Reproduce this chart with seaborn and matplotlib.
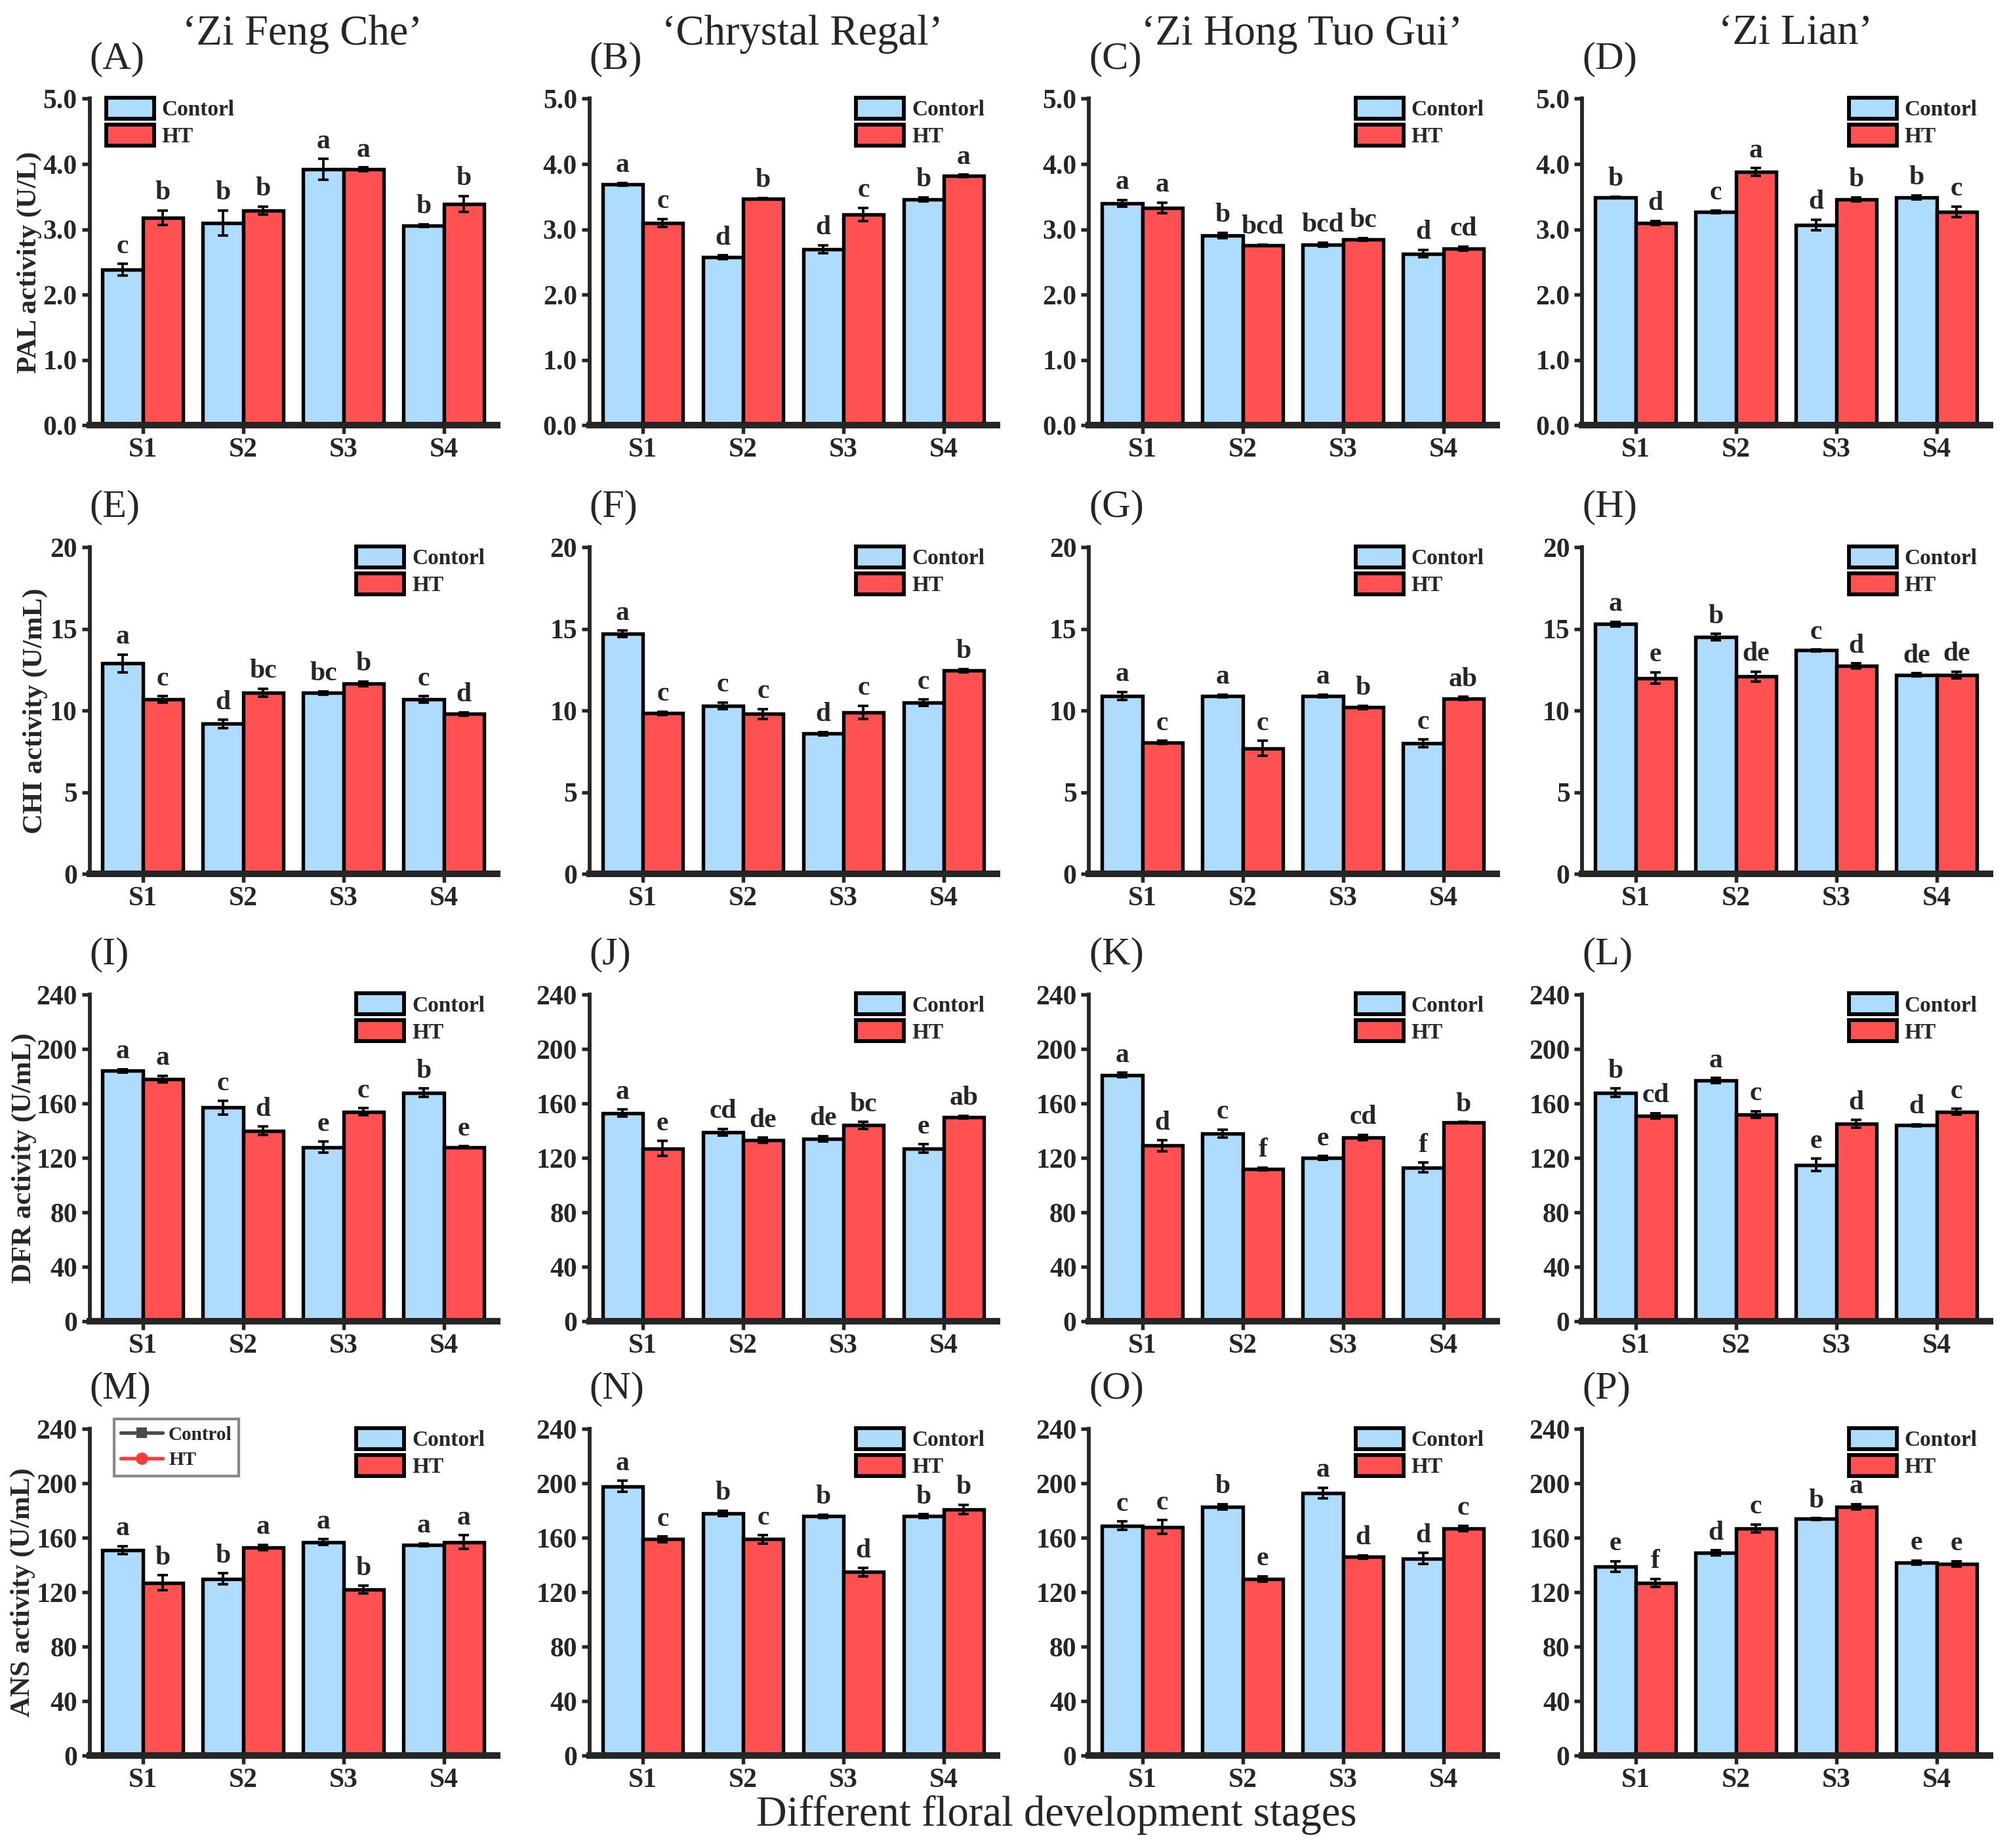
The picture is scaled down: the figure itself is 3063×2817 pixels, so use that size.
"""Enzyme activities (PAL, CHI, DFR, ANS) of four cultivars under control and HT."""

import matplotlib
matplotlib.use("Agg")
import matplotlib.pyplot as plt
from matplotlib.lines import Line2D
from matplotlib.patches import Patch
import pandas as pd
import seaborn as sns

STAGES = ["S1", "S2", "S3", "S4"]
TREATMENTS = ["Contorl", "HT"]
CULTIVARS = ["\u2018Zi Feng Che\u2019", "\u2018Chrystal Regal\u2019",
             "\u2018Zi Hong Tuo Gui\u2019", "\u2018Zi Lian\u2019"]
PANEL_TAGS = list("ABCDEFGHIJKLMNOP")
ENZYME_LABELS = ["PAL activity (U/L)", "CHI activity (U/mL)",
                 "DFR activity (U/mL)", "ANS activity (U/mL)"]
Y_TICKS = [[0, 1, 2, 3, 4, 5], [0, 5, 10, 15, 20],
           [0, 40, 80, 120, 160, 200, 240], [0, 40, 80, 120, 160, 200, 240]]
Y_FMT = ["{:.1f}", "{:g}", "{:g}", "{:g}"]
X_LABEL = "Different floral development stages"

# one row per cultivar, one value per stage
PAL_CTRL = [[2.38, 3.10, 3.92, 3.06], [3.69, 2.57, 2.70, 3.46],
            [3.40, 2.91, 2.77, 2.63], [3.49, 3.27, 3.07, 3.49]]
PAL_HT = [[3.18, 3.29, 3.92, 3.39], [3.10, 3.47, 3.23, 3.82],
          [3.33, 2.76, 2.85, 2.71], [3.10, 3.88, 3.46, 3.27]]
PAL_CTRL_SE = [[0.09, 0.19, 0.16, 0.02], [0.02, 0.03, 0.06, 0.03],
               [0.05, 0.04, 0.03, 0.06], [0.01, 0.02, 0.08, 0.03]]
PAL_HT_SE = [[0.11, 0.06, 0.03, 0.12], [0.06, 0.01, 0.10, 0.02],
             [0.08, 0.01, 0.02, 0.03], [0.03, 0.06, 0.03, 0.08]]
PAL_CTRL_SIG = [["c", "b", "a", "b"], ["a", "d", "d", "b"],
                ["a", "b", "bcd", "d"], ["b", "c", "d", "b"]]
PAL_HT_SIG = [["b", "b", "a", "b"], ["c", "b", "c", "a"],
              ["a", "bcd", "bc", "cd"], ["d", "a", "b", "c"]]

CHI_CTRL = [[12.9, 9.2, 11.1, 10.7], [14.7, 10.3, 8.6, 10.5],
            [10.9, 10.9, 10.9, 8.0], [15.3, 14.5, 13.7, 12.2]]
CHI_HT = [[10.7, 11.1, 11.65, 9.8], [9.85, 9.8, 9.9, 12.45],
          [8.05, 7.7, 10.2, 10.75], [12.0, 12.1, 12.75, 12.2]]
CHI_CTRL_SE = [[0.55, 0.25, 0.1, 0.2], [0.2, 0.2, 0.1, 0.2],
               [0.25, 0.1, 0.1, 0.25], [0.15, 0.2, 0.05, 0.1]]
CHI_HT_SE = [[0.2, 0.25, 0.15, 0.1], [0.1, 0.3, 0.4, 0.1],
             [0.1, 0.45, 0.1, 0.1], [0.35, 0.3, 0.15, 0.2]]
CHI_CTRL_SIG = [["a", "d", "bc", "c"], ["a", "c", "d", "c"],
                ["a", "a", "a", "c"], ["a", "b", "c", "de"]]
CHI_HT_SIG = [["c", "bc", "b", "d"], ["c", "c", "c", "b"],
              ["c", "c", "b", "ab"], ["e", "de", "d", "de"]]

DFR_CTRL = [[184, 157, 128, 168], [153, 139, 134, 127],
            [181, 138, 120, 113], [168, 177, 115, 144]]
DFR_HT = [[178, 140, 154, 128], [127, 133, 144, 150],
          [129, 112, 135, 146], [151, 152, 145, 154]]
DFR_CTRL_SE = [[1.2, 5, 4, 3], [2.5, 2.5, 2, 3],
               [1.5, 3, 1.5, 3.5], [3, 1.8, 4.5, 0.8]]
DFR_HT_SE = [[2.5, 3, 2.5, 0.6], [5.5, 2, 2.5, 1],
             [4, 1, 2, 0.5], [2, 2.5, 3, 2]]
DFR_CTRL_SIG = [["a", "c", "e", "b"], ["a", "cd", "de", "e"],
                ["a", "c", "e", "f"], ["b", "a", "e", "d"]]
DFR_HT_SIG = [["a", "d", "c", "e"], ["e", "de", "bc", "ab"],
              ["d", "f", "cd", "b"], ["cd", "c", "d", "c"]]

ANS_CTRL = [[151, 130, 157, 155], [198, 178, 176, 176],
            [169, 183, 193, 145], [139, 149, 174, 142]]
ANS_HT = [[127, 153, 122, 157], [159, 159, 135, 181],
          [168, 130, 146, 167], [127, 167, 183, 141]]
ANS_CTRL_SE = [[3, 4, 2, 1], [4, 2, 1.2, 1.5],
               [3, 2, 4, 4], [4, 2, 0.6, 1.5]]
ANS_HT_SE = [[5.5, 2, 3, 5], [2, 3, 3, 3.5],
             [5, 2, 1.2, 2], [3, 3, 2, 2]]
ANS_CTRL_SIG = [["a", "b", "a", "a"], ["a", "b", "b", "b"],
                ["c", "b", "a", "d"], ["e", "d", "b", "e"]]
ANS_HT_SIG = [["b", "a", "b", "a"], ["c", "c", "d", "b"],
              ["c", "e", "d", "c"], ["f", "c", "a", "e"]]

ENZYMES = [
    (PAL_CTRL, PAL_HT, PAL_CTRL_SE, PAL_HT_SE, PAL_CTRL_SIG, PAL_HT_SIG),
    (CHI_CTRL, CHI_HT, CHI_CTRL_SE, CHI_HT_SE, CHI_CTRL_SIG, CHI_HT_SIG),
    (DFR_CTRL, DFR_HT, DFR_CTRL_SE, DFR_HT_SE, DFR_CTRL_SIG, DFR_HT_SIG),
    (ANS_CTRL, ANS_HT, ANS_CTRL_SE, ANS_HT_SE, ANS_CTRL_SIG, ANS_HT_SIG),
]

BLUE = "#AEDCFE"
RED = "#FF5052"

sns.set_style("ticks")
plt.rcParams["font.family"] = ["Liberation Serif", "DejaVu Serif"]
plt.rcParams["axes.linewidth"] = 1.4

fig = plt.figure(figsize=(3063 / 300, 2817 / 300), dpi=300)

col_left = [0.0446, 0.2934, 0.5421, 0.7876]
row_bottom = [0.7698, 0.5270, 0.2850, 0.0499]
ax_w, ax_h = 0.2028, 0.1768
ylabel_x = [0.0147, 0.0175, 0.012, 0.0115]

for r, (ctrl, ht, ctrl_se, ht_se, ctrl_sig, ht_sig) in enumerate(ENZYMES):
    ymax = Y_TICKS[r][-1]
    for c in range(4):
        ax = fig.add_axes([col_left[c], row_bottom[r], ax_w, ax_h])
        df = pd.DataFrame({
            "stage": STAGES * 2,
            "treatment": [TREATMENTS[0]] * 4 + [TREATMENTS[1]] * 4,
            "value": ctrl[c] + ht[c],
        })
        sns.barplot(data=df, x="stage", y="value", hue="treatment",
                    hue_order=TREATMENTS, palette=[BLUE, RED], saturation=1,
                    errorbar=None, edgecolor="black", linewidth=1.3,
                    width=0.8, legend=False, ax=ax)

        for cont, errs, sigs in zip(ax.containers, [ctrl_se[c], ht_se[c]],
                                    [ctrl_sig[c], ht_sig[c]]):
            for bar, e, s in zip(cont, errs, sigs):
                x = bar.get_x() + bar.get_width() / 2
                y = bar.get_height()
                ax.errorbar(x, y, yerr=e, color="black", capsize=2.0,
                            elinewidth=0.9, capthick=0.9, zorder=5)
                ax.text(x, y + e + 0.015 * ymax, s, ha="center", va="bottom",
                        fontsize=10, fontweight="bold")

        ax.set_xlim(-0.53, 3.53)
        ax.set_ylim(0, ymax)
        ax.set_yticks(Y_TICKS[r])
        ax.set_yticklabels([Y_FMT[r].format(t) for t in Y_TICKS[r]])
        ax.set_xlabel("")
        ax.set_ylabel("")
        sns.despine(ax=ax)
        ax.spines["left"].set_linewidth(1.4)
        ax.spines["bottom"].set_linewidth(2.4)
        ax.tick_params(axis="both", direction="out", length=3, width=1.3,
                       labelsize=10, pad=1.5)
        for lab in ax.get_xticklabels() + ax.get_yticklabels():
            lab.set_fontweight("bold")

        handles = [Patch(facecolor=BLUE, edgecolor="black", linewidth=1.4,
                         label=TREATMENTS[0]),
                   Patch(facecolor=RED, edgecolor="black", linewidth=1.4,
                         label=TREATMENTS[1])]
        if r == 0 and c == 0:
            loc, anchor = "upper left", (0.035, 1.01)
        else:
            loc, anchor = "upper right", (0.975, 1.01)
        leg = ax.legend(handles=handles, loc=loc, bbox_to_anchor=anchor,
                        frameon=False, prop={"weight": "bold", "size": 8},
                        handlelength=2.2, handleheight=1.1, handletextpad=0.35,
                        labelspacing=0.2, borderaxespad=0, borderpad=0.1)

        if r == 3 and c == 0:
            ax.add_artist(leg)
            line_handles = [
                Line2D([0], [0], color="#4a4a4a", marker="s", markersize=3,
                       lw=1.3, label="Control"),
                Line2D([0], [0], color="#ff3b3b", marker="o", markersize=3.5,
                       lw=1.3, label="HT"),
            ]
            ax.legend(handles=line_handles, loc="upper left",
                      bbox_to_anchor=(0.06, 1.03), frameon=True, fancybox=False,
                      edgecolor="#888888", framealpha=1,
                      prop={"weight": "bold", "size": 7},
                      handlelength=2.2, handletextpad=0.3, labelspacing=0.4,
                      borderpad=0.35, borderaxespad=0)

        fig.text(col_left[c], row_bottom[r] + ax_h + 0.0215,
                 f"({PANEL_TAGS[r * 4 + c]})", fontsize=14.5,
                 ha="left", va="center")

    fig.text(ylabel_x[r], row_bottom[r] + ax_h / 2, ENZYME_LABELS[r],
             rotation=90, ha="center", va="center", fontsize=10.3,
             fontweight="bold")

for c, name in enumerate(CULTIVARS):
    fig.text(col_left[c] + 0.106, 0.9815, name, fontsize=15.5,
             ha="center", va="center")

fig.text(0.526, 0.0178, X_LABEL, fontsize=15.5, ha="center", va="center")

fig.savefig("out.png", dpi=300)
